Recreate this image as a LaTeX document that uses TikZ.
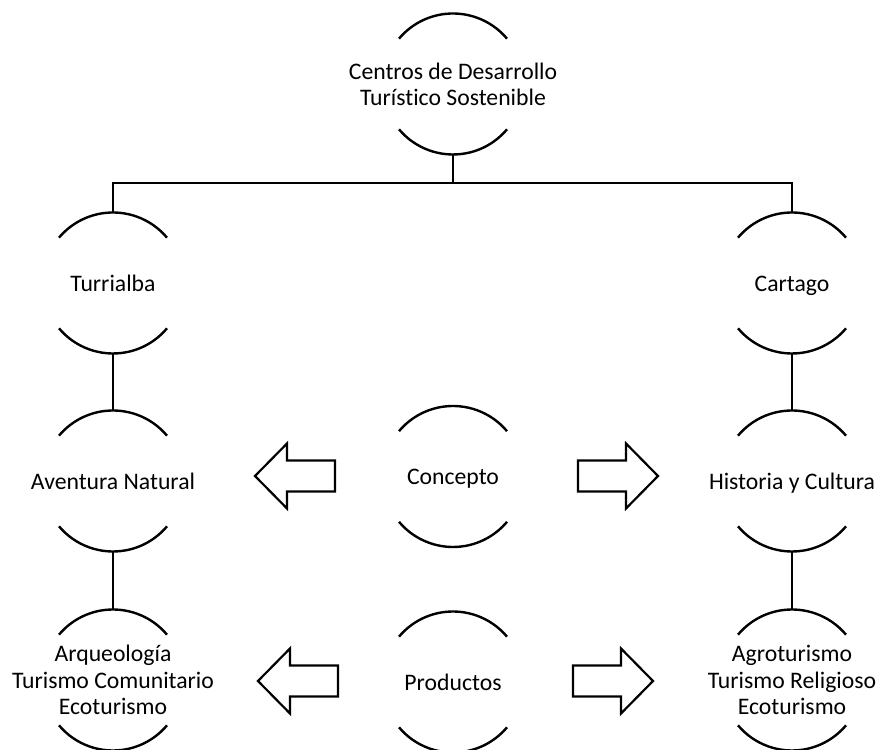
\documentclass[tikz,border=0pt]{standalone}
\usepackage{fontspec}
\setmainfont{Carlito}[Ligatures=NoCommon]
\begin{document}
\begin{tikzpicture}[x=1pt,y=1pt,
  ln/.style={line width=2.4pt, black},
  ring/.style={circle, draw=none, minimum size=141pt, inner sep=0pt, outer sep=0pt},
  lbl/.style={align=center, inner sep=0pt, yshift=-3pt, font=\fontsize{23.7}{26.5}\selectfont},
  blk/.style={line width=2.2pt, black, line join=miter},
  larrow/.pic={\draw[blk] (0,-15.5) -- (-48,-15.5) -- (-48,-32.5) -- (-80,0) -- (-48,32.5) -- (-48,15.5) -- (0,15.5) -- cycle;},
  rarrow/.pic={\draw[blk] (0,-15.5) -- (48,-15.5) -- (48,-32.5) -- (80,0) -- (48,32.5) -- (48,15.5) -- (0,15.5) -- cycle;}
]
\useasboundingbox (0,0) rectangle (880,749);

\node[ring, label={[lbl]center:{\strut Centros de Desarrollo\\\strut Turístico Sostenible}}] (top) at (453,665) {};
\node[ring, label={[lbl]center:\strut Turrialba}] (turr) at (113,466) {};
\node[ring, label={[lbl]center:\strut Cartago}] (cart) at (792,466) {};
\node[ring, label={[lbl]center:\strut Aventura Natural}] (avent) at (113,268) {};
\node[ring, label={[lbl]center:\strut Historia y Cultura}] (hist) at (792,268) {};
\node[ring, label={[lbl]center:\strut Concepto}] (conc) at (453,272.5) {};
\node[ring, label={[lbl]center:{\strut Arqueología\\\strut Turismo Comunitario\\\strut Ecoturismo}}] (arq) at (113,69) {};
\node[ring, label={[lbl]center:{\strut Agroturismo\\\strut Turismo Religioso\\\strut Ecoturismo}}] (agro) at (792,69) {};
\node[ring, label={[lbl]center:\strut Productos}] (prod) at (453,67) {};

\foreach \n in {top,turr,cart,avent,hist,conc,arq,agro,prod}{
  \draw[ln] (\n.40) arc[start angle=40, end angle=140, radius=70.5];
  \draw[ln] (\n.220) arc[start angle=220, end angle=320, radius=70.5];
}

\coordinate (bus) at (453,566);
\draw[ln] (top.south) -- (bus);
\draw[ln] (turr.north) |- (bus) -| (cart.north);
\draw[ln] (turr.south) -- (avent.north);
\draw[ln] (avent.south) -- (arq.north);
\draw[ln] (cart.south) -- (hist.north);
\draw[ln] (hist.south) -- (agro.north);

\pic at (335,273) {larrow};
\pic at (578,273) {rarrow};
\pic at (338,68) {larrow};
\pic at (573,68) {rarrow};
\end{tikzpicture}
\end{document}
